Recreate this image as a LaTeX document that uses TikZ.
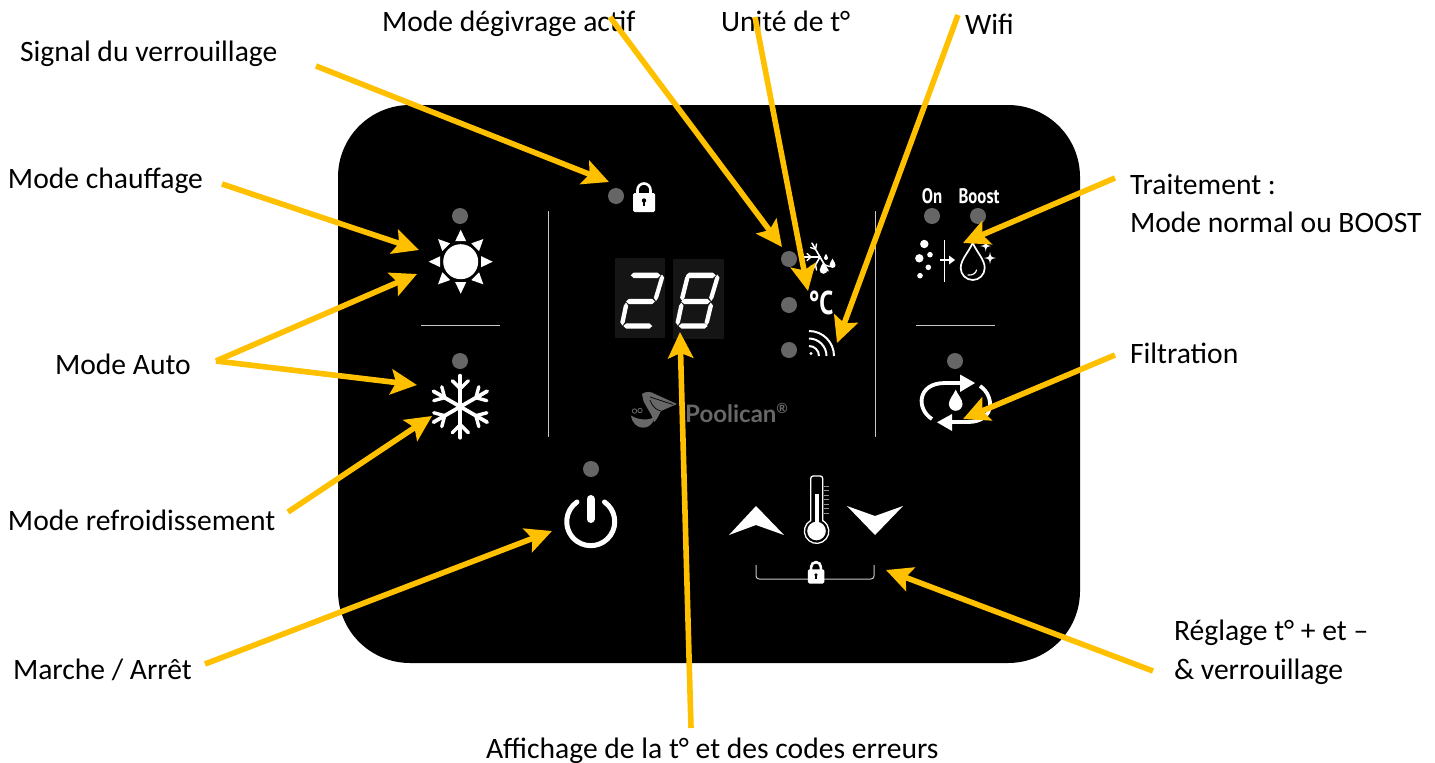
\documentclass[tikz,border=0pt]{standalone}
\usepackage{fontspec}
\setmainfont{Carlito}
\newfontfamily\panelfont{PT Sans}
\newfontfamily\logofont{Lato}
\usetikzlibrary{arrows.meta}
\definecolor{callout}{HTML}{FFC000}
\definecolor{ledgray}{HTML}{666666}
\definecolor{rulegray}{HTML}{C8C8C8}
\definecolor{digitbg}{HTML}{151515}
\definecolor{logogray}{HTML}{686868}
\tikzset{
  lbl/.style={anchor=base west,inner sep=0pt,outer sep=0pt,text=black,font=\fontsize{29.6}{32}\selectfont},
  callarrow/.style={draw=callout,line width=5.6pt,-{Stealth[length=26pt,width=25pt,inset=5pt]}},
  led/.style={fill=ledgray,draw=none},
  panelrule/.style={draw=rulegray,line width=1pt},
  iconline/.style={draw=white,line cap=round,line join=round},
  ontext/.style={text=white,inner sep=0pt,font=\panelfont\bfseries\fontsize{21}{22}\selectfont,xscale=.8},
}
\newcommand{\padlock}[3]{% x y scale
  \begin{scope}[shift={(#1,#2)},scale=#3]
    \draw[white,line width=2.6pt] (-6.5,-4) -- (-6.5,-8) arc (180:360:6.5) -- (6.5,-4);
    \fill[white,rounded corners=1.5pt] (-11,-5) rectangle (11,14);
    \fill[black] (0,2.5) circle (2.2);
    \fill[black] (-1,2.5) rectangle (1,8);
  \end{scope}}
\newcommand{\dropshape}[3]{% x y(centre of round) r
  (#1,#2-2.1*#3) .. controls (#1+.35*#3,#2-1.3*#3) and (#1+#3,#2-.7*#3) .. (#1+#3,#2)
  arc (0:180:#3) .. controls (#1-#3,#2-.7*#3) and (#1-.35*#3,#2-1.3*#3) .. (#1,#2-2.1*#3) -- cycle}
\newcommand{\sparkle}[3]{% x y r
  \fill[white] (#1,#2-#3) .. controls (#1+.15*#3,#2-.15*#3) .. (#1+#3,#2)
   .. controls (#1+.15*#3,#2+.15*#3) .. (#1,#2+#3)
   .. controls (#1-.15*#3,#2+.15*#3) .. (#1-#3,#2)
   .. controls (#1-.15*#3,#2-.15*#3) .. (#1,#2-#3) -- cycle;}
\newcommand{\hseg}[3]{\fill[white] (#1,#3) -- (#1+3,#3-2.7) -- (#2-3,#3-2.7) -- (#2,#3) -- (#2-3,#3+2.7) -- (#1+3,#3+2.7) -- cycle;}
\newcommand{\vseg}[4]{\fill[white] (#1,#2) -- (#1+2.2,#2+3.2) -- (#3+2.2,#4-3.2) -- (#3,#4) -- (#3-2.2,#4-3.2) -- (#1-2.2,#2+3.2) -- cycle;}
\begin{document}
\begin{tikzpicture}[x=1pt,y=-1pt]
\useasboundingbox (0,0) rectangle (1435,763);
\fill[white] (0,0) rectangle (1435,763);
% panel
\fill[black,rounded corners=72pt] (338,105) rectangle (1080,663);
% rules
\draw[panelrule] (548,211) -- (548,437);
\draw[panelrule] (875,211) -- (875,437);
\draw[panelrule] (421,325.5) -- (500,325.5);
\draw[panelrule] (916,325.5) -- (995,325.5);
% LEDs
\foreach \p in {(460,216),(460,361),(616,196),(789,259),(789,305),(789,350),(932,216),(978,216),(955,361),(591,469)}
  \fill[led] \p circle (8);
% padlock
\padlock{644}{198}{1}
% sun
\fill[white] (460.7,261.7) circle (17.5);
\foreach \a in {0,45,...,315}
  \fill[white,shift={(460.7,261.7)},rotate=\a] (20.5,-5.5) -- (32,0) -- (20.5,5.5) -- cycle;
% big snowflake
\begin{scope}[shift={(460.3,406.7)}]
\foreach \a in {30,90,...,330}{
  \begin{scope}[rotate=\a]
    \draw[iconline,line width=3.8pt] (0,0) -- (31,0);
    \draw[iconline,line width=3.4pt] (26,-8) -- (18,0) -- (26,8);
  \end{scope}}
\end{scope}
% seven segment display
\fill[digitbg] (615,258) rectangle (665,338);
\fill[digitbg] (673,259) rectangle (724,339);
\hseg{630.7}{660.5}{275.3}
\vseg{662}{274.5}{656}{301}
\hseg{626}{655}{301.5}
\vseg{626}{302.5}{622.5}{325.5}
\hseg{623.3}{652.3}{326}
\begin{scope}[xshift=55.3pt]
\hseg{630.7}{660.5}{275.3}
\vseg{662}{274.5}{656}{301}
\hseg{626}{655}{301.5}
\vseg{626}{302.5}{622.5}{325.5}
\hseg{623.3}{652.3}{326}
\vseg{632}{274.5}{627}{301}
\vseg{655.5}{302.5}{651.5}{325.5}
\end{scope}
% logo
\fill[logogray] (631,415.5) .. controls (633,431) and (652,432) .. (654.5,417) .. controls (648,421) and (638,420) .. (631,415.5) -- cycle;
\fill[logogray] (642,394) .. controls (646,391) and (651,391.5) .. (655,394) -- (677,404) -- (661,411) .. controls (658,417) and (656,421) .. (654,422) .. controls (652,414) and (646,407) .. (643.5,401) -- cycle;
\draw[black,line width=.7pt] (650,397) -- (673,404.5);
\draw[black,line width=.7pt] (650,400) .. controls (653,408) and (657,410) .. (661,411);
\draw[logogray,line width=.8pt] (634.5,411) circle (2.2);
\draw[logogray,line width=.8pt] (640,410.5) circle (2.2);
\node[inner sep=0pt,anchor=base west,text=logogray,font=\logofont\bfseries\fontsize{24}{26}\selectfont] (logo) at (685,422.5) {Poolican\textsuperscript{\fontsize{14}{14}\selectfont ®}};
% defrost icon
\begin{scope}[shift={(820,257)}]
\foreach \a in {180,240,120,300}{
  \begin{scope}[rotate=\a]
    \draw[iconline,line width=1.6pt] (0,0) -- (16,0);
    \draw[iconline,line width=1.4pt] (13,-3.5) -- (9,0) -- (13,3.5);
  \end{scope}}
\end{scope}
\fill[white] \dropshape{823.5}{270}{3.8};
\fill[white] \dropshape{832.5}{265}{3};
\fill[white] \dropshape{826}{258}{2};
% celsius
\node[inner sep=0pt,text=white,font=\panelfont\bfseries\fontsize{33}{35}\selectfont,xscale=.76] (celsius) at (821,303) {°C};
% wifi
\fill[white] (811,353.5) circle (1.7);
\foreach \r in {10,17.5,25}
  \draw[white,line width=2pt] (809,356-\r) arc (270:360:\r);
% On Boost
\node[ontext] (ontxt) at (932,196) {On};
\node[ontext] (boosttxt) at (979,196) {Boost};
% treatment icon
\foreach \x/\y/\r in {924.3/244/4.2,919.3/258.3/4.2,930/254.7/2.8,928.3/267.3/2.8,920/275.7/2.8}
  \fill[white] (\x,\y) circle (\r);
\draw[white,line width=1.6pt] (944.3,240) -- (944.3,282);
\draw[white,line width=1.6pt] (940,260) -- (950,260);
\fill[white] (949,255.5) -- (955,260) -- (949,264.5) -- cycle;
\draw[white,line width=1.7pt,line join=round] \dropshape{972.7}{268}{12};
\draw[white,line width=1.2pt,line cap=round] (968,275) .. controls (973,275.5) and (976,273) .. (976.5,270);
\sparkle{985.7}{246}{5.5}
\sparkle{990}{258}{6}
% filtration icon
\draw[white,line width=3.8pt] (932,419) .. controls (916,409) and (917,383) .. (945,383) -- (962,383);
\fill[white] (960,374.5) -- (975,383) -- (960,392) -- cycle;
\draw[white,line width=3.8pt] (980,386) .. controls (995,396) and (995,422) .. (968,422) -- (950,422);
\fill[white] (952,414) -- (937,422.3) -- (952,431) -- cycle;
\fill[white] \dropshape{955.7}{404}{6.8};
% power
\draw[white,line width=5pt,line cap=round] (604.5,502) arc (-55:235:24);
\draw[white,line width=8pt,line cap=round] (590.5,499) -- (590.5,519);
% thermometer and arrows
\fill[white] (729,535) -- (756,506) -- (784,535) -- (756,525) -- cycle;
\fill[white] (847,506) -- (875,535) -- (903,506) -- (875,516) -- cycle;
\draw[white,line width=1.3pt,rounded corners=2.5pt] (810.7,521) -- (810.7,476) -- (822.7,476) -- (822.7,521);
\draw[white,line width=1.3pt] (810.7,520.5) arc (241:-61:12.2);
\fill[white] (816.5,531) circle (9.3);
\fill[white] (814.5,494) rectangle (818.5,525);
\foreach \y in {486,490.5,...,513.5}
  \draw[ledgray!70!white,line width=1pt] (823.5,\y) -- (829,\y);
\draw[rulegray,line width=1pt,rounded corners=3pt] (756,565) -- (756,579) -- (874,579) -- (874,565);
\padlock{816}{573}{.75}
% labels
\node[lbl] (signal) at (20,61) {Signal du verrouillage};
\node[lbl] (degivrage) at (382,31) {Mode dégivrage actif};
\node[lbl] (unite) at (721,31) {Unité de t°};
\node[lbl] (wifi) at (965,34) {Wifi};
\node[lbl] (traitA) at (1130,194) {Traitement :};
\node[lbl] (traitB) at (1130,232) {Mode normal ou BOOST};
\node[lbl] (filtration) at (1130,363) {Filtration};
\node[lbl] (chauffage) at (8,188) {Mode chauffage};
\node[lbl] (auto) at (55,374) {Mode Auto};
\node[lbl] (refroid) at (8,530) {Mode refroidissement};
\node[lbl] (marche) at (13,679) {Marche / Arrêt};
\node[lbl] (reglageA) at (1174,640) {Réglage t° + et –};
\node[lbl] (reglageB) at (1174,679) {\& verrouillage};
\node[lbl] (affichage) at (486,758) {Affichage de la t° et des codes erreurs};
% connector ends
\coordinate (sS) at (316,66);   \coordinate (sE) at (609,182);
\coordinate (dS) at (610,17);   \coordinate (dE) at (782,247);
\coordinate (uS) at (755,17);   \coordinate (uE) at (808,291);
\coordinate (wS) at (958,15);   \coordinate (wE) at (837,343);
\coordinate (tS) at (1115,178); \coordinate (tE) at (963,243);
\coordinate (fS) at (1115,355); \coordinate (fE) at (963,419);
\coordinate (cS) at (222,184);  \coordinate (cE) at (419,250);
\coordinate (aS) at (216,361);  \coordinate (a1E) at (417,274); \coordinate (a2E) at (417,385);
\coordinate (rS) at (288,512);  \coordinate (rE) at (432,416);
\coordinate (mS) at (205,664);  \coordinate (mE) at (552,531);
\coordinate (eS) at (691,728);  \coordinate (eE) at (680,332);
\coordinate (gS) at (1153,671); \coordinate (gE) at (886,570);
% connectors
\foreach \a/\b in {sS/sE,dS/dE,uS/uE,wS/wE,tS/tE,fS/fE,cS/cE,aS/a1E,aS/a2E,rS/rE,mS/mE,eS/eE,gS/gE}
  \draw[callarrow] (\a) -- (\b);
\end{tikzpicture}
\end{document}
